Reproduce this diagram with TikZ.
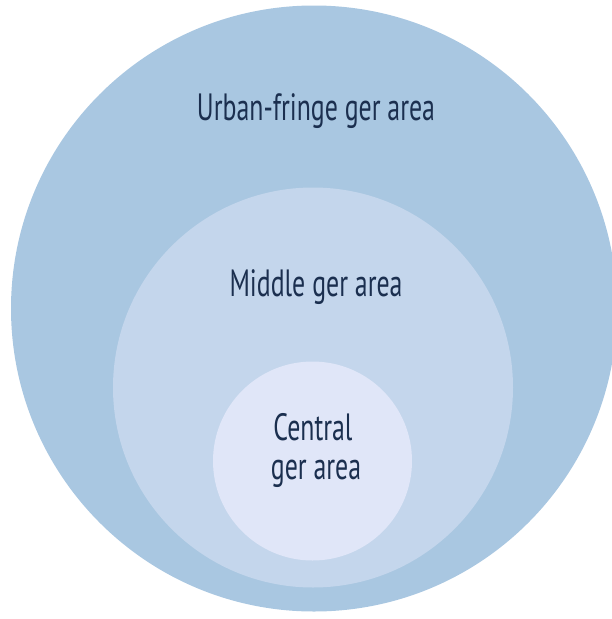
\documentclass[tikz,border=0pt]{standalone}
\usepackage{fontspec}
\setmainfont{PT Sans}[FakeStretch=0.68]
\definecolor{outerc}{HTML}{A9C7E1}
\definecolor{midc}{HTML}{C4D6EC}
\definecolor{innerc}{HTML}{E0E6F8}
\definecolor{txt}{HTML}{1B2F4F}
\begin{document}
\begin{tikzpicture}[x=1pt,y=-1pt,
  ring/.style={circle,inner sep=0pt,draw=none},
  lbl/.style={text=txt,font=\fontsize{38}{39}\selectfont,anchor=base,inner sep=0pt,align=center}]
\useasboundingbox (0,0) rectangle (612,619);
\begin{scope}
\clip (0,0) rectangle (612,619);
\node[ring,fill=outerc,minimum size=606] (outer) at (314,308.5) {};
\end{scope}
\node[ring,fill=midc,minimum size=400] (middle) at (313,387.5) {};
\node[ring,fill=innerc,minimum size=199] (inner) at (312.5,461) {};
\node[lbl] (lu) at (316,120) {Urban-fringe ger area};
\node[lbl] (lm) at (316,296) {Middle ger area};
\node[lbl] (lc1) at (313,440) {Central};
\node[lbl] (lc2) at (316,479) {ger area};
\end{tikzpicture}
\end{document}
